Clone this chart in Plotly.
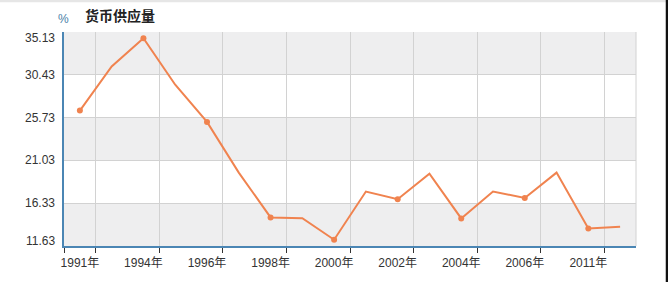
import plotly.graph_objects as go

# ---- data ----
title_text = "货币供应量"
unit_text = "%"
x_labels = ["1991年", "1994年", "1996年", "1998年", "2000年", "2002年", "2004年", "2006年", "2011年"]
money_supply = [26.50, 31.34, 34.44, 29.34, 25.26, 19.69, 14.77, 14.69, 12.32,
                17.61, 16.77, 19.58, 14.66, 17.61, 16.91, 19.69, 13.56, 13.74]
y_ticks = [11.63, 16.33, 21.03, 25.73, 30.43, 35.13]

n = len(money_supply)
xs = list(range(n))
label_pos = xs[::2]
grid_pos = [-0.5] + [p + 0.5 for p in label_pos]

LINE = "#f0834f"
AXIS = "#4b86b4"
GRID = "#d2d2d2"
BAND = "#eeeeef"
FONT = "Liberation Sans, Arial, Noto Sans CJK SC"

fig = go.Figure()
fig.add_trace(go.Scatter(x=xs, y=money_supply, mode="lines",
                         line=dict(color=LINE, width=2), hoverinfo="skip",
                         showlegend=False))
fig.add_trace(go.Scatter(x=label_pos, y=money_supply[::2], mode="markers",
                         marker=dict(color=LINE, size=6), showlegend=False))

shapes = []
# alternating horizontal bands (gray at top, then white, ...)
for i in range(len(y_ticks) - 1):
    if (len(y_ticks) - 2 - i) % 2 == 0:
        shapes.append(dict(type="rect", xref="paper", yref="y", x0=0, x1=1,
                           y0=y_ticks[i], y1=y_ticks[i + 1], fillcolor=BAND,
                           line=dict(width=0), layer="below"))
# right border of plot
shapes.append(dict(type="line", xref="paper", yref="paper", x0=1, x1=1, y0=0, y1=1,
                   line=dict(color=GRID, width=1), layer="below"))
# screenshot edges: light strip at top, dark strip on the right
shapes.append(dict(type="rect", xref="paper", yref="paper", x0=-0.2, x1=1.1,
                   y0=1.139, y1=1.16, fillcolor="#e6e6e6", line=dict(width=0)))
shapes.append(dict(type="rect", xref="paper", yref="paper", x0=1.052, x1=1.1,
                   y0=-0.2, y1=1.2, fillcolor="#111111", line=dict(width=0)))

annotations = [
    dict(text="<b>" + title_text + "</b>", xref="paper", yref="paper",
         x=(83 - 64) / 572, y=(248 - 15) / 216, xanchor="left", yanchor="middle",
         showarrow=False, font=dict(size=14, color="#222222", family="Noto Sans CJK SC")),
    dict(text=unit_text, xref="paper", yref="paper",
         x=(63 - 64) / 572, y=(248 - 19) / 216, xanchor="center", yanchor="middle",
         showarrow=False, font=dict(size=12, color="#4a7fa8", family=FONT)),
]
# y tick labels (end labels are pulled inside the plot range as in the reference)
for i, v in enumerate(y_ticks):
    shift = 0
    if i == 0:
        shift = 5
    elif i == len(y_ticks) - 1:
        shift = -6
    annotations.append(dict(text=f"{v:.2f}", xref="paper", yref="y", x=0, y=v,
                            xanchor="right", yanchor="middle", xshift=-7, yshift=shift,
                            showarrow=False, font=dict(size=12, color="#333333", family=FONT)))

fig.update_layout(
    width=668, height=282,
    margin=dict(l=64, r=32, t=32, b=34),
    paper_bgcolor="white", plot_bgcolor="white",
    font=dict(family=FONT, color="#333333", size=12),
    shapes=shapes,
    showlegend=False,
    annotations=annotations,
)

fig.update_xaxes(
    range=[-0.5, n - 0.5], tickmode="array", tickvals=label_pos, ticktext=x_labels,
    showgrid=False, ticks="", showline=True, linecolor=AXIS, linewidth=2,
    zeroline=False, tickfont=dict(size=12, color="#333333", family=FONT), ticklabelstandoff=5,
    minor=dict(tickmode="array", tickvals=grid_pos, showgrid=True, gridcolor=GRID,
               gridwidth=1, ticks="outside", ticklen=5, tickcolor="#333333", tickwidth=1),
)
fig.update_yaxes(
    range=[y_ticks[0], y_ticks[-1]], tickmode="array", tickvals=y_ticks,
    showticklabels=False,
    showgrid=True, gridcolor=GRID, gridwidth=1, zeroline=False,
    showline=True, linecolor=AXIS, linewidth=2, ticks="",
)

fig.write_html("out.html")
